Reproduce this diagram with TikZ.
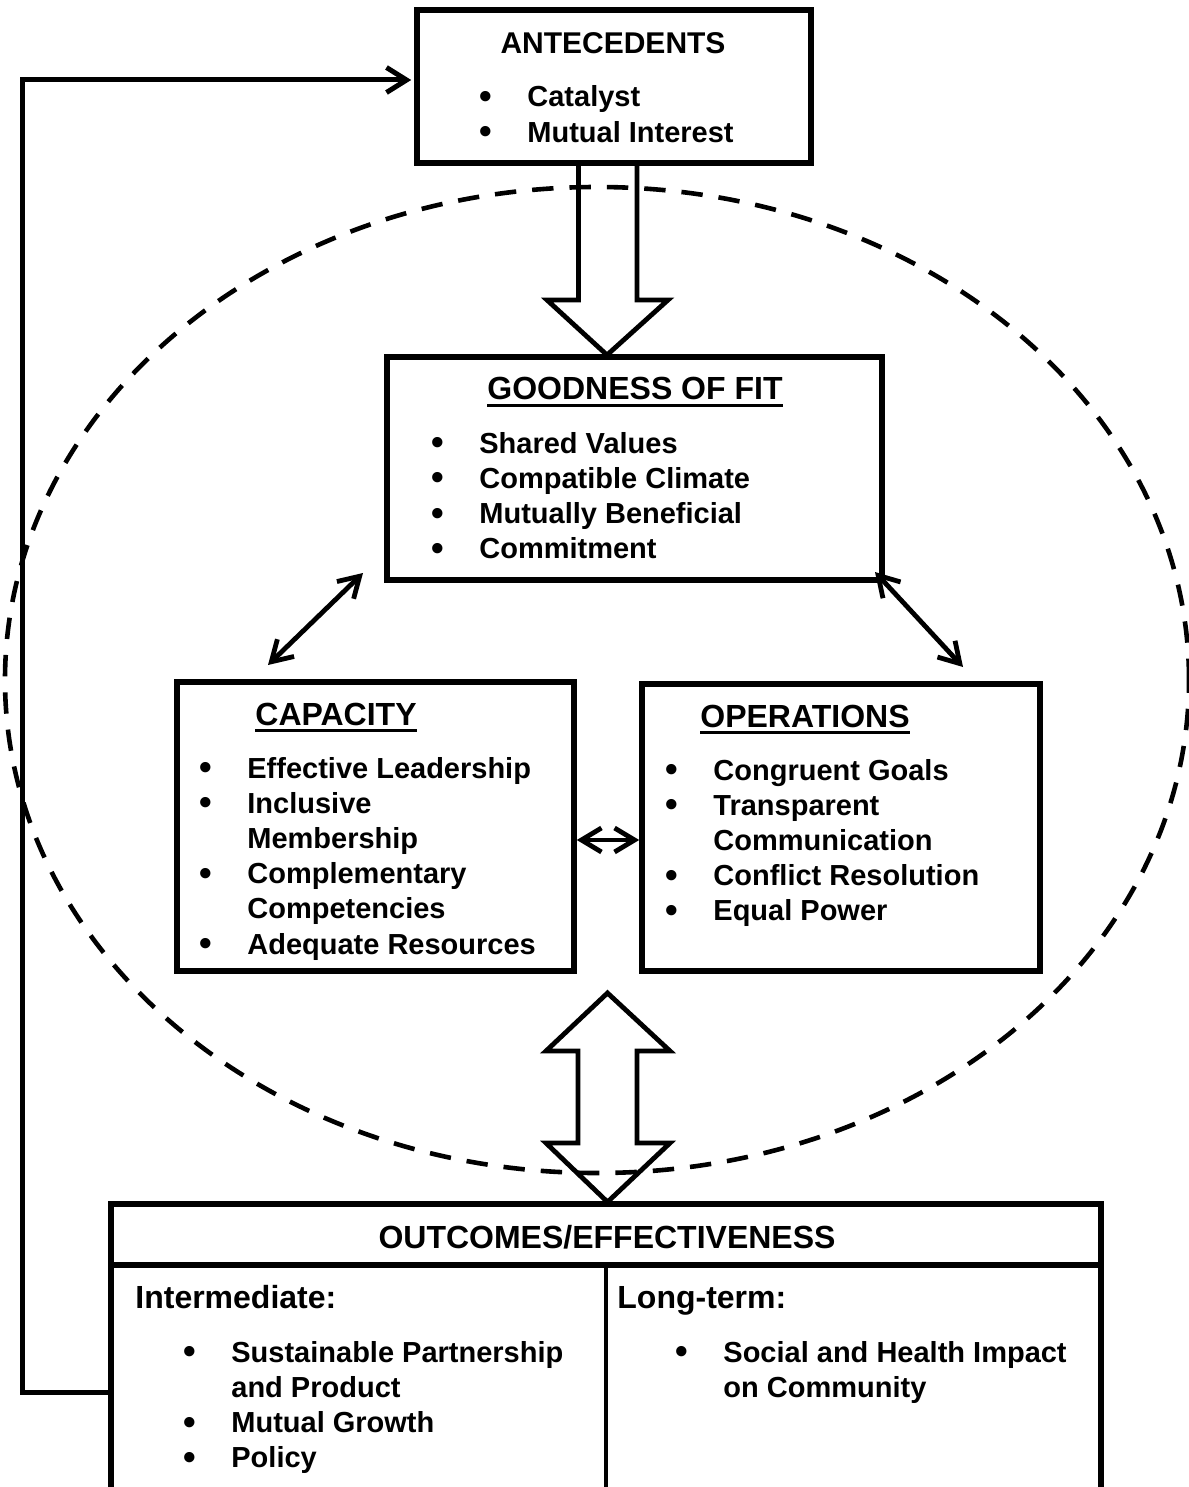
\documentclass[tikz,border=0pt]{standalone}
\usepackage{fontspec}
\setmainfont{Liberation Sans}
\usetikzlibrary{arrows.meta}

\newcommand{\headline}[1]{\setbox0\hbox{#1}\rlap{\rule[-3.6pt]{\wd0}{1.6pt}}\box0}
\newcommand{\bulletlist}[1]{\begin{tabular}[t]{@{}p{24pt}@{}l@{}}#1\end{tabular}}
\newcommand{\bp}{\raisebox{-0.8pt}{\fontsize{18}{18}\selectfont\textbullet}&}

\begin{document}
\begin{tikzpicture}[x=0.5pt, y=-0.5pt,
    box/.style={draw, line width=2.8pt, inner sep=0pt},
    head/.style={font=\bfseries\fontsize{16}{19}\selectfont, inner sep=0pt, anchor=base},
    items/.style={font=\bfseries\fontsize{14.5}{17.6}\selectfont, inner sep=0pt, anchor=base west},
    hollow/.style={draw, line width=2.4pt},
    link/.style={line width=2.4pt, {Straight Barb[length=10pt,width=12pt]}-{Straight Barb[length=10pt,width=12pt]}}]
      \useasboundingbox (0,0) rectangle (1188,1487);
      \draw[line width=2.3pt, dash pattern=on 10.7pt off 8pt] (597,680) ellipse [x radius=296pt, y radius=246.5pt];

      \node[box, minimum width=197pt, minimum height=76.5pt] (ante) at (614,86.5) {};
      \node[box, minimum width=247.5pt, minimum height=111.5pt] (gof) at (634.5,468.5) {};
      \node[box, minimum width=198.5pt, minimum height=144.5pt] (cap) at (375.5,826.5) {};
      \node[box, minimum width=199pt, minimum height=143.5pt] (ops) at (841,827.5) {};
      \node[box, minimum width=495pt, minimum height=30.5pt] (outH) at (606,1234.5) {};
      \node[box, minimum width=495pt, minimum height=137.5pt] (outB) at (606,1402.5) {};
      \draw[line width=2.2pt] (outB.north) -- (outB.south);

      \node[head, font=\bfseries\fontsize{15}{18}\selectfont] (anteT) at (613,53.5) {ANTECEDENTS};
      \node[head] (gofT) at (635,399.5) {\headline{GOODNESS OF FIT}};
      \node[head] (capT) at (336,725) {\headline{CAPACITY}};
      \node[head] (opsT) at (805,727) {\headline{OPERATIONS}};
      \node[head] (outT) at (607,1248) {OUTCOMES/EFFECTIVENESS};
      \node[head, anchor=base west] (interT) at (135,1308) {Intermediate:};
      \node[head, anchor=base west] (longT) at (617,1308) {Long-term:};

      \node[items] (anteL) at (479,107) {\bulletlist{\bp Catalyst\\ \bp Mutual Interest}};
      \node[items] (gofL) at (431,453) {\bulletlist{\bp Shared Values\\ \bp Compatible Climate\\ \bp Mutually Beneficial\\ \bp Commitment}};
      \node[items] (capL) at (199,778) {\bulletlist{\bp Effective Leadership\\ \bp Inclusive\\ & Membership\\ \bp Complementary\\ & Competencies\\ \bp Adequate Resources}};
      \node[items] (opsL) at (665,780) {\bulletlist{\bp Congruent Goals\\ \bp Transparent\\ & Communication\\ \bp Conflict Resolution\\ \bp Equal Power}};
      \node[items] (outL) at (183,1362) {\bulletlist{\bp Sustainable Partnership\\ & and Product\\ \bp Mutual Growth\\ \bp Policy}};
      \node[items] (outR) at (675,1362) {\bulletlist{\bp Social and Health Impact\\ & on Community}};

      \coordinate (tipA) at (607,355);
      \draw[hollow] (578.5,163) -- (578.5,300) -- (547,300) -- (tipA) -- (668,300) -- (637,300) -- (637,163);
      \coordinate (tipB) at (607.5,993);
      \coordinate (tipC) at (607.5,1202);
      \draw[hollow] (tipB) -- (546,1051) -- (578,1051) -- (578,1143) -- (546,1143) -- (tipC)
        -- (670,1143) -- (637,1143) -- (637,1051) -- (670,1051) -- cycle;

      \coordinate (capEnd) at (268,665);
      \coordinate (gofEndL) at (363,573);
      \coordinate (gofEndR) at (875,572);
      \coordinate (opsEnd) at (963,667);
      \draw[link] (capEnd) -- (gofEndL);
      \draw[link] (gofEndR) -- (opsEnd);
      \draw[link] ([yshift=-6.75pt]cap.east) -- ([yshift=-6.25pt]ops.west);

      \coordinate (fbCorner) at (22,80);
      \draw[line width=2.5pt, -{Straight Barb[length=10pt,width=12.5pt]}, shorten >=1.5pt]
        ([yshift=5.25pt]outB.west) -| (fbCorner) -- ([yshift=3.25pt]ante.west);
\end{tikzpicture}
\end{document}
